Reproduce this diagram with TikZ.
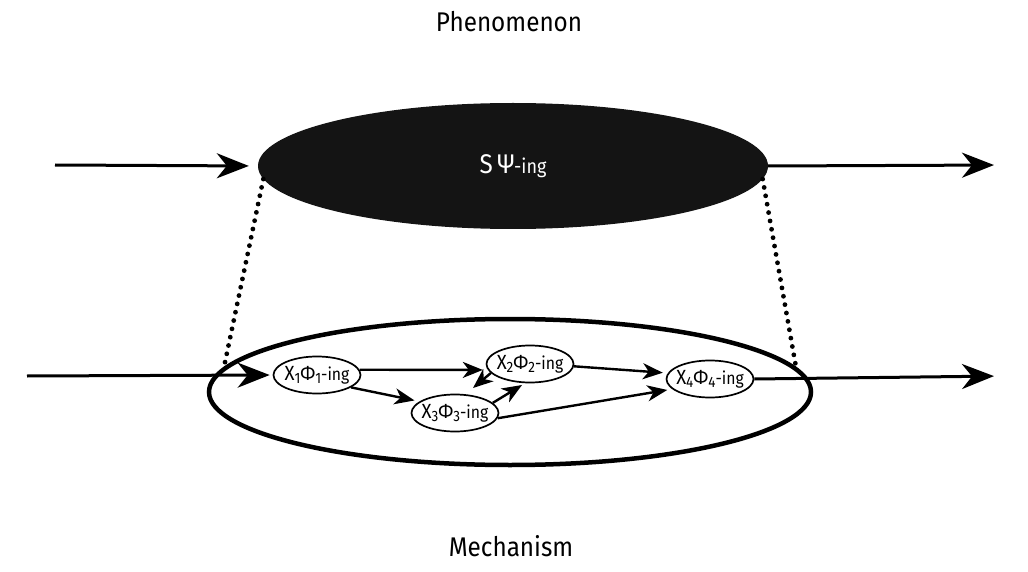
\documentclass[tikz,border=0pt]{standalone}
\usepackage{fontspec}
\setmainfont[FakeStretch=0.9]{Fira Sans}
\usetikzlibrary{arrows.meta,shapes.geometric}
\newcommand{\lsub}[1]{\raisebox{-0.35ex}{\fontsize{15}{15}\selectfont #1}}
\newcommand{\lab}[1]{X\lsub{#1}Φ\lsub{#1}{\fontsize{17.5}{17.5}\selectfont-ing}}
\begin{document}
\begin{tikzpicture}[x=1pt,y=-1pt,
  big/.style={-{Stealth[length=32pt,width=25pt,inset=10pt]},line width=3pt,shorten >=9pt},
  small/.style={-{Stealth[length=20pt,width=16pt,inset=6pt]},line width=2.4pt,shorten >=5pt},
  dotline/.style={line width=4.8pt,dash pattern=on 0pt off 8.5pt,line cap=round},
  sub/.style={ellipse,draw,line width=1.7pt,minimum width=87pt,minimum height=37pt,inner xsep=-4pt,inner ysep=0pt,font=\fontsize{20.5}{20.5}\selectfont},
  lbl/.style={font=\fontsize{27}{27}\selectfont}]
\useasboundingbox (0,0) rectangle (1028,572);
\node[lbl] (phen) at (509,22) {Phenomenon};
\node[lbl] (mechl) at (511,546) {Mechanism};
\node[ellipse,fill=black!92,minimum width=510pt,minimum height=126pt,inner sep=0pt,text=white,font=\fontsize{27}{27}\selectfont] (ph) at (513,166) {S\,Ψ{\fontsize{20}{20}\selectfont-ing}};
\node[ellipse,draw,line width=4.5pt,minimum width=602pt,minimum height=146pt,inner sep=0pt] (mech) at (510,392) {};
\node[sub] (x1) at (317,375) {\lab{1}};
\node[sub] (x2) at (530,364) {\lab{2}};
\node[sub] (x3) at (455,413) {\lab{3}};
\node[sub] (x4) at (710,379) {\lab{4}};
\coordinate (tin) at (55,165);
\coordinate (tout) at (1003,165);
\coordinate (bin) at (27,376);
\coordinate (bout) at (1003,376);
\draw[big] (tin) -- (ph.west);
\draw[big] (ph.east) -- (tout);
\draw[big,shorten >=3pt] (bin) -- (x1.west);
\draw[big] (x4.east) -- (bout);
\draw[dotline] (ph.183) -- (mech.175);
\draw[dotline] (ph.357) -- (mech.5);
\draw[small] (x1.7) -- (x2.188);
\draw[small] (x1.-20) -- (x3.162);
\draw[small] (x2.-3) -- (x4.172);
\draw[small] (x3.-7) -- (x4.-165);
\draw[small,shorten >=0pt] (x3.15) -- ([shift={(-8,21)}]x2.center);
\draw[small,shorten >=0pt] (x2.193) -- ([shift={(18,-25)}]x3.center);
\end{tikzpicture}
\end{document}
